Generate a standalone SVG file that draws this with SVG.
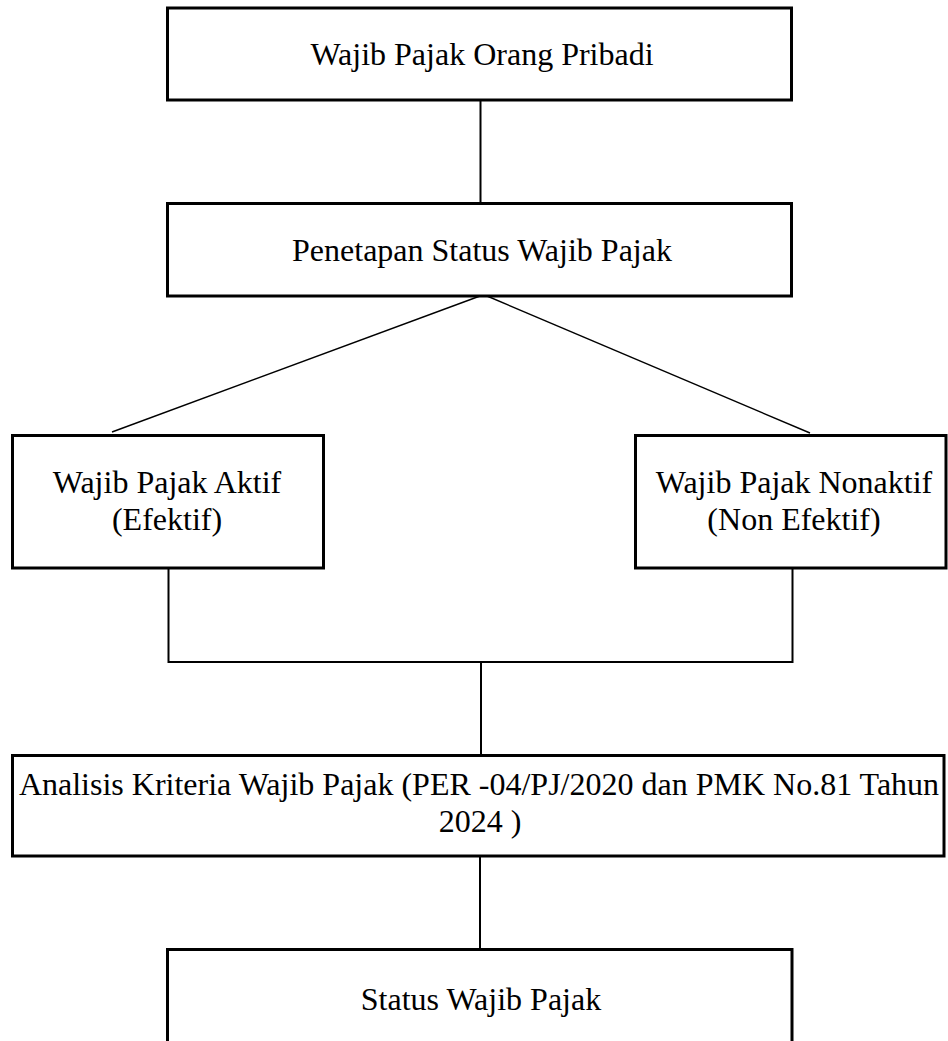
<svg xmlns="http://www.w3.org/2000/svg" width="948" height="1041" viewBox="0 0 948 1041">
<style>
.box{fill:#fff;stroke:#000;stroke-width:3}
.t{font-family:"Liberation Serif","Times New Roman",serif;font-size:32px;fill:#000;text-anchor:middle}
.c{fill:none;stroke:#000;stroke-width:2}
.d{fill:none;stroke:#000;stroke-width:1.4}
</style>
<rect width="948" height="1041" fill="#fff"/>
<g id="connectors">
<line class="c" x1="480.5" y1="100" x2="480.5" y2="203"/>
<line class="d" x1="480" y1="296" x2="112" y2="432"/>
<line class="d" x1="487" y1="296" x2="810" y2="433"/>
<path class="c" d="M168.5 568 V662 H792.5 V568"/>
<line class="c" x1="481" y1="662" x2="481" y2="755"/>
<line class="c" x1="480" y1="856" x2="480" y2="949"/>
</g>
<g id="node-wp-orang-pribadi">
<rect class="box" x="167.5" y="8" width="624" height="92"/>
<text class="t" x="482" y="65">Wajib Pajak Orang Pribadi</text>
</g>
<g id="node-penetapan">
<rect class="box" x="167.5" y="203.5" width="624" height="92.5"/>
<text class="t" x="482" y="261">Penetapan Status Wajib Pajak</text>
</g>
<g id="node-aktif">
<rect class="box" x="12.5" y="435.5" width="311" height="132.5"/>
<text class="t" x="167" y="493">Wajib Pajak Aktif</text>
<text class="t" x="167" y="530">(Efektif)</text>
</g>
<g id="node-nonaktif">
<rect class="box" x="635.5" y="435.5" width="310.5" height="132.5"/>
<text class="t" x="794" y="493">Wajib Pajak Nonaktif</text>
<text class="t" x="794" y="530">(Non Efektif)</text>
</g>
<g id="node-analisis">
<rect class="box" x="12.5" y="755.5" width="931.5" height="100.5"/>
<text class="t" x="479" y="795">Analisis Kriteria Wajib Pajak (PER -04/PJ/2020 dan PMK No.81 Tahun</text>
<text class="t" x="480" y="832">2024 )</text>
</g>
<g id="node-status">
<path class="box" d="M167.5 1046 V949.5 H792 V1046"/>
<text class="t" x="481" y="1010">Status Wajib Pajak</text>
</g>
</svg>
